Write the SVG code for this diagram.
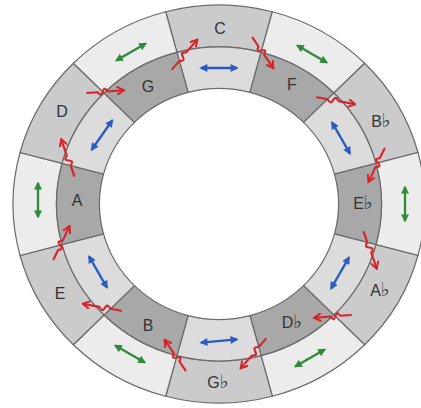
<svg xmlns="http://www.w3.org/2000/svg" width="421" height="408" viewBox="0 0 421 408">
<defs>
<style>
.cell{stroke:#6a6a6a;stroke-width:1.2;vector-effect:non-scaling-stroke}
.mid{fill:#cbcbcb}
.lo{fill:#ececec}
.li{fill:#dcdcdc}
.dk{fill:#a8a8a8}
.lbl{font-family:"Liberation Sans",Arial,"DejaVu Sans",sans-serif;font-size:16px;fill:#333;text-anchor:middle}
.fl{font-family:"DejaVu Sans",sans-serif;font-size:19px}
.blue{stroke:#2a5cbf;stroke-width:2.3;fill:none;marker-start:url(#hb);marker-end:url(#hb)}
.green{stroke:#2e8b3a;stroke-width:2.3;fill:none;marker-start:url(#hg);marker-end:url(#hg)}
.red{stroke:#d8232a;stroke-width:2.1;fill:none;stroke-linecap:round;stroke-linejoin:round;marker-end:url(#hr)}
</style>
<marker id="hb" viewBox="0 0 10 10" refX="8" refY="5" markerWidth="9" markerHeight="8" markerUnits="userSpaceOnUse" orient="auto-start-reverse"><path d="M0,0 L10,5 L0,10 z" fill="#2a5cbf"/></marker>
<marker id="hg" viewBox="0 0 10 10" refX="8" refY="5" markerWidth="9" markerHeight="8" markerUnits="userSpaceOnUse" orient="auto-start-reverse"><path d="M0,0 L10,5 L0,10 z" fill="#2e8b3a"/></marker>
<marker id="hr" viewBox="0 0 10 10" refX="8" refY="5" markerWidth="9" markerHeight="9" markerUnits="userSpaceOnUse" orient="auto"><path d="M1,1 L8,5 L1,9" fill="none" stroke="#d8232a" stroke-width="2.2" stroke-linecap="round" stroke-linejoin="round"/></marker>
</defs>
<rect width="421" height="408" fill="#ffffff"/>

<g id="C"><path class="cell mid" transform="translate(219,204) scale(1.035,1)" d="M-51.51,-192.22 A199,199 0 0 1 51.51,-192.22 L40.63,-151.65 A157,157 0 0 0 -40.63,-151.65 Z"/><text class="lbl" x="220" y="34">C</text></g>
<g id="C-inner"><path class="cell li" transform="translate(219,204) scale(1.035,1)" d="M-40.63,-151.65 A157,157 0 0 1 40.63,-151.65 L29.89,-111.56 A115.5,115.5 0 0 0 -29.89,-111.56 Z"/><line class="blue" x1="201" y1="68" x2="237" y2="68"/></g>

<g id="F-outer"><path class="cell lo" transform="translate(219,204) scale(1.035,1)" d="M51.51,-192.22 A199,199 0 0 1 140.71,-140.71 L111.02,-111.02 A157,157 0 0 0 40.63,-151.65 Z"/><line class="green" transform="translate(312,54) rotate(30)" x1="-17" y1="0" x2="17" y2="0"/></g>
<g id="F"><path class="cell dk" transform="translate(219,204) scale(1.035,1)" d="M40.63,-151.65 A157,157 0 0 1 111.02,-111.02 L81.67,-81.67 A115.5,115.5 0 0 0 29.89,-111.56 Z"/><text class="lbl" x="292" y="90">F</text></g>

<g id="Bb"><path class="cell mid" transform="translate(219,204) scale(1.035,1)" d="M140.71,-140.71 A199,199 0 0 1 192.22,-51.51 L151.65,-40.63 A157,157 0 0 0 111.02,-111.02 Z"/><text class="lbl" x="381" y="127">B<tspan class="fl">♭</tspan></text></g>
<g id="Bb-inner"><path class="cell li" transform="translate(219,204) scale(1.035,1)" d="M111.02,-111.02 A157,157 0 0 1 151.65,-40.63 L111.56,-29.89 A115.5,115.5 0 0 0 81.67,-81.67 Z"/><line class="blue" transform="translate(341,138) rotate(60)" x1="-18" y1="0" x2="18" y2="0"/></g>

<g id="Eb-outer"><path class="cell lo" transform="translate(219,204) scale(1.035,1)" d="M192.22,-51.51 A199,199 0 0 1 192.22,51.51 L151.65,40.63 A157,157 0 0 0 151.65,-40.63 Z"/><line class="green" transform="translate(405,204) rotate(90)" x1="-17" y1="0" x2="17" y2="0"/></g>
<g id="Eb"><path class="cell dk" transform="translate(219,204) scale(1.035,1)" d="M151.65,-40.63 A157,157 0 0 1 151.65,40.63 L111.56,29.89 A115.5,115.5 0 0 0 111.56,-29.89 Z"/><text class="lbl" x="363" y="209">E<tspan class="fl">♭</tspan></text></g>

<g id="Ab"><path class="cell mid" transform="translate(219,204) scale(1.035,1)" d="M192.22,51.51 A199,199 0 0 1 140.71,140.71 L111.02,111.02 A157,157 0 0 0 151.65,40.63 Z"/><text class="lbl" x="380" y="296">A<tspan class="fl">♭</tspan></text></g>
<g id="Ab-inner"><path class="cell li" transform="translate(219,204) scale(1.035,1)" d="M151.65,40.63 A157,157 0 0 1 111.02,111.02 L81.67,81.67 A115.5,115.5 0 0 0 111.56,29.89 Z"/><line class="blue" transform="translate(340,273) rotate(120)" x1="-18" y1="0" x2="18" y2="0"/></g>

<g id="Db-outer"><path class="cell lo" transform="translate(219,204) scale(1.035,1)" d="M140.71,140.71 A199,199 0 0 1 51.51,192.22 L40.63,151.65 A157,157 0 0 0 111.02,111.02 Z"/><line class="green" transform="translate(310,358) rotate(150)" x1="-17" y1="0" x2="17" y2="0"/></g>
<g id="Db"><path class="cell dk" transform="translate(219,204) scale(1.035,1)" d="M111.02,111.02 A157,157 0 0 1 40.63,151.65 L29.89,111.56 A115.5,115.5 0 0 0 81.67,81.67 Z"/><text class="lbl" x="292" y="328">D<tspan class="fl">♭</tspan></text></g>

<g id="Gb"><path class="cell mid" transform="translate(219,204) scale(1.035,1)" d="M51.51,192.22 A199,199 0 0 1 -51.51,192.22 L-40.63,151.65 A157,157 0 0 0 40.63,151.65 Z"/><text class="lbl" x="218" y="388">G<tspan class="fl">♭</tspan></text></g>
<g id="Gb-inner"><path class="cell li" transform="translate(219,204) scale(1.035,1)" d="M40.63,151.65 A157,157 0 0 1 -40.63,151.65 L-29.89,111.56 A115.5,115.5 0 0 0 29.89,111.56 Z"/><line class="blue" transform="translate(219,341) rotate(175)" x1="-18" y1="0" x2="18" y2="0"/></g>

<g id="B-outer"><path class="cell lo" transform="translate(219,204) scale(1.035,1)" d="M-51.51,192.22 A199,199 0 0 1 -140.71,140.71 L-111.02,111.02 A157,157 0 0 0 -40.63,151.65 Z"/><line class="green" transform="translate(130,354) rotate(210)" x1="-17" y1="0" x2="17" y2="0"/></g>
<g id="B"><path class="cell dk" transform="translate(219,204) scale(1.035,1)" d="M-40.63,151.65 A157,157 0 0 1 -111.02,111.02 L-81.67,81.67 A115.5,115.5 0 0 0 -29.89,111.56 Z"/><text class="lbl" x="148" y="331">B</text></g>

<g id="E"><path class="cell mid" transform="translate(219,204) scale(1.035,1)" d="M-140.71,140.71 A199,199 0 0 1 -192.22,51.51 L-151.65,40.63 A157,157 0 0 0 -111.02,111.02 Z"/><text class="lbl" x="60" y="299">E</text></g>
<g id="E-inner"><path class="cell li" transform="translate(219,204) scale(1.035,1)" d="M-111.02,111.02 A157,157 0 0 1 -151.65,40.63 L-111.56,29.89 A115.5,115.5 0 0 0 -81.67,81.67 Z"/><line class="blue" transform="translate(98,272) rotate(240)" x1="-18" y1="0" x2="18" y2="0"/></g>

<g id="A-outer"><path class="cell lo" transform="translate(219,204) scale(1.035,1)" d="M-192.22,51.51 A199,199 0 0 1 -192.22,-51.51 L-151.65,-40.63 A157,157 0 0 0 -151.65,40.63 Z"/><line class="green" transform="translate(38,200) rotate(270)" x1="-17" y1="0" x2="17" y2="0"/></g>
<g id="A"><path class="cell dk" transform="translate(219,204) scale(1.035,1)" d="M-151.65,40.63 A157,157 0 0 1 -151.65,-40.63 L-111.56,-29.89 A115.5,115.5 0 0 0 -111.56,29.89 Z"/><text class="lbl" x="77" y="206">A</text></g>

<g id="D"><path class="cell mid" transform="translate(219,204) scale(1.035,1)" d="M-192.22,-51.51 A199,199 0 0 1 -140.71,-140.71 L-111.02,-111.02 A157,157 0 0 0 -151.65,-40.63 Z"/><text class="lbl" x="62" y="117">D</text></g>
<g id="D-inner"><path class="cell li" transform="translate(219,204) scale(1.035,1)" d="M-151.65,-40.63 A157,157 0 0 1 -111.02,-111.02 L-81.67,-81.67 A115.5,115.5 0 0 0 -111.56,-29.89 Z"/><line class="blue" transform="translate(102,135) rotate(305)" x1="-18" y1="0" x2="18" y2="0"/></g>

<g id="G-outer"><path class="cell lo" transform="translate(219,204) scale(1.035,1)" d="M-140.71,-140.71 A199,199 0 0 1 -51.51,-192.22 L-40.63,-151.65 A157,157 0 0 0 -111.02,-111.02 Z"/><line class="green" transform="translate(131,52) rotate(330)" x1="-17" y1="0" x2="17" y2="0"/></g>
<g id="G"><path class="cell dk" transform="translate(219,204) scale(1.035,1)" d="M-111.02,-111.02 A157,157 0 0 1 -40.63,-151.65 L-29.89,-111.56 A115.5,115.5 0 0 0 -81.67,-81.67 Z"/><text class="lbl" x="148" y="92">G</text></g>

<g id="connectors">
<path class="red" transform="translate(176.95,52.35) rotate(-15)" d="M-9,15 L0,9 C11,12 -2,-1 9,2.5 L23,-7"/>
<path class="red" transform="translate(261.05,52.35) rotate(15)" d="M-12,-12 L-4,-5 C-6,6 6,-10 3.5,1.5 L16,12"/>
<path class="red" transform="translate(333.9,92.98) rotate(45)" d="M-9,15 L0,9 C11,12 -2,-1 9,2.5 L23,-7"/>
<path class="red" transform="translate(375.96,163.37) rotate(75)" d="M-12,-12 L-4,-5 C-6,6 6,-10 3.5,1.5 L16,12"/>
<path class="red" transform="translate(375.96,244.63) rotate(105)" d="M-9,15 L0,9 C11,12 -2,-1 9,2.5 L23,-7"/>
<path class="red" transform="translate(333.9,315.02) rotate(135)" d="M-12,-12 L-4,-5 C-6,6 6,-10 3.5,1.5 L16,12"/>
<path class="red" transform="translate(261.05,355.65) rotate(165)" d="M-9,15 L0,9 C11,12 -2,-1 9,2.5 L23,-7"/>
<path class="red" transform="translate(176.95,355.65) rotate(195)" d="M-12,-12 L-4,-5 C-6,6 6,-10 3.5,1.5 L16,12"/>
<path class="red" transform="translate(104.1,315.02) rotate(225)" d="M-9,15 L0,9 C11,12 -2,-1 9,2.5 L23,-7"/>
<path class="red" transform="translate(62.04,244.63) rotate(255)" d="M-12,-12 L-4,-5 C-6,6 6,-10 3.5,1.5 L16,12"/>
<path class="red" transform="translate(62.04,163.37) rotate(285)" d="M-9,15 L0,9 C11,12 -2,-1 9,2.5 L23,-7"/>
<path class="red" transform="translate(104.1,92.98) rotate(315)" d="M-12,-12 L-4,-5 C-6,6 6,-10 3.5,1.5 L16,12"/>
</g>
</svg>
